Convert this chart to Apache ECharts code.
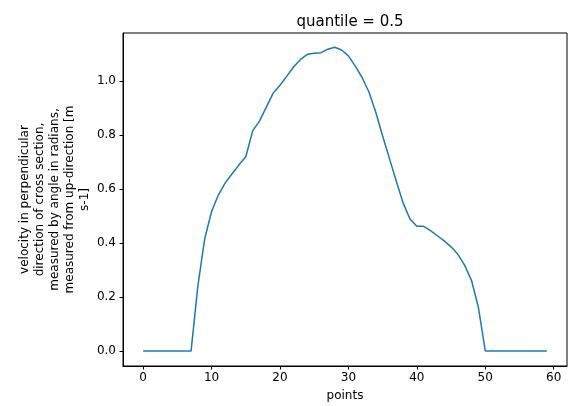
<!DOCTYPE html>
<html><head><meta charset="utf-8">
<script src="https://cdn.jsdelivr.net/npm/echarts@6/dist/echarts.min.js"></script>
<style>html,body{margin:0;padding:0;background:#fff}#c{width:578px;height:406px}</style>
</head><body><div id="c"></div>
<script>
const points = Array.from({length: 60}, (_, i) => i);
const velocity = [
  0,0,0,0,0,0,0,0,0.242,0.417,
  0.517,0.579,0.623,0.657,0.690,0.720,0.816,0.852,0.904,0.956,
  0.985,1.019,1.054,1.081,1.100,1.104,1.106,1.119,1.126,1.116,
  1.094,1.056,1.014,0.960,0.885,0.797,0.713,0.629,0.548,0.489,
  0.462,0.462,0.446,0.427,0.408,0.386,0.358,0.317,0.261,0.161,
  0,0,0,0,0,0,0,0,0,0
];
const xTicks = [0,10,20,30,40,50,60];
const yTicks = [0,0.2,0.4,0.6,0.8,1.0];
const titleText = 'quantile = 0.5';
const xName = 'points';
const yName = 'velocity in perpendicular\ndirection of cross section,\nmeasured by angle in radians,\nmeasured from up-direction [m\ns-1]';

const F = 'DejaVu Sans';
const chart = echarts.init(document.getElementById('c'), null, {renderer: 'canvas'});
chart.setOption({
  animation: false,
  backgroundColor: '#fff',
  title: {text: titleText, left: 345, top: 10, textAlign: 'center',
    textStyle: {fontFamily: F, fontSize: 15, fontWeight: 'normal', color: '#000'}},
  grid: {left: 123, right: 11, top: 33, bottom: 40, show: true, borderColor: '#000', borderWidth: 1, backgroundColor: 'transparent', outerBoundsMode: 'none', containLabel: false},
  xAxis: {type: 'value', min: -2.95, max: 61.95,
    name: xName, nameLocation: 'middle', nameGap: 24, nameMoveOverlap: false,
    nameTextStyle: {fontFamily: F, fontSize: 12, color: '#000'},
    axisLine: {show: true, onZero: false, lineStyle: {color: '#000', width: 1}},
    axisTick: {show: true, length: 3.5, lineStyle: {color: '#000'}, customValues: xTicks},
    axisLabel: {fontFamily: F, fontSize: 12, color: '#000', margin: 6, customValues: xTicks, formatter: v => String(v)},
    splitLine: {show: false}},
  yAxis: {type: 'value', min: -0.056, max: 1.179,
    name: yName, nameLocation: 'middle', nameGap: 31, nameRotate: 90, nameMoveOverlap: false,
    nameTextStyle: {fontFamily: F, fontSize: 12, color: '#000', lineHeight: 15, align: 'center'},
    axisLine: {show: true, onZero: false, lineStyle: {color: '#000', width: 1}},
    axisTick: {show: true, length: 3.5, lineStyle: {color: '#000'}, customValues: yTicks},
    axisLabel: {fontFamily: F, fontSize: 12, color: '#000', margin: 7, customValues: yTicks, formatter: v => v.toFixed(1)},
    splitLine: {show: false}},
  series: [{type: 'line', data: points.map((p, i) => [p, velocity[i]]), showSymbol: false,
    lineStyle: {color: '#1f77b4', width: 1.5}, itemStyle: {color: '#1f77b4'}}]
});
</script></body></html>
